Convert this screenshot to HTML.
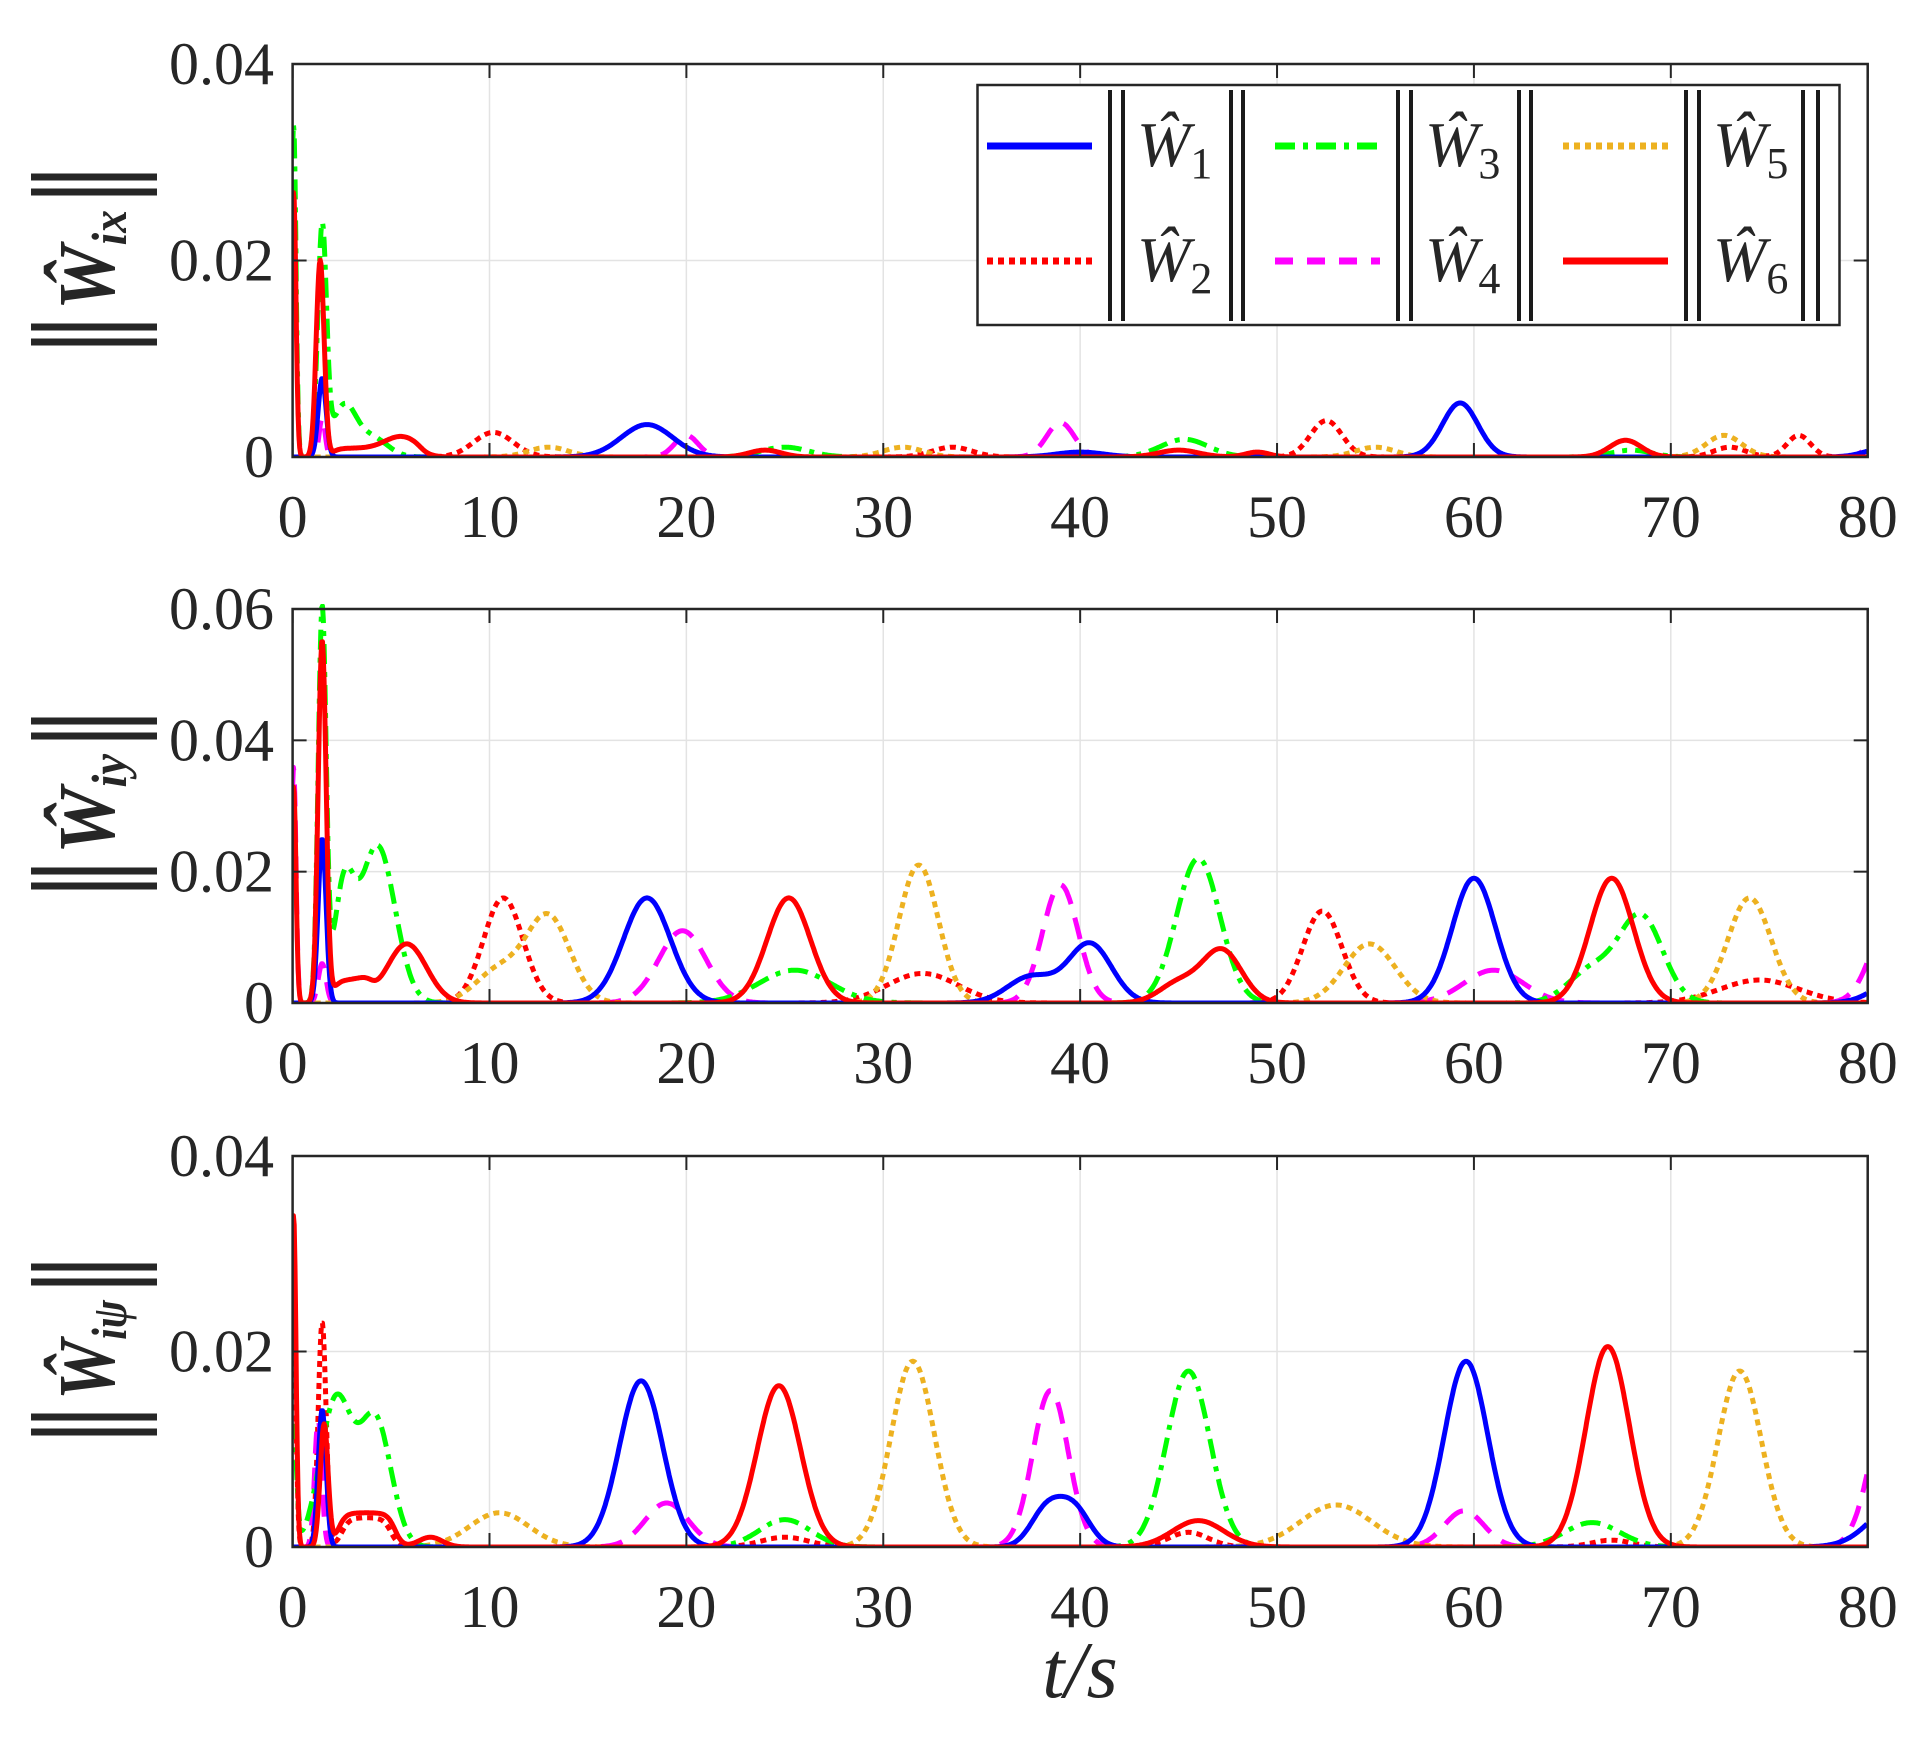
<!DOCTYPE html>
<html><head><meta charset="utf-8"><style>
html,body{margin:0;padding:0;background:#fff;}
svg{display:block;}
text{font-family:"Liberation Serif",serif;fill:#262626;}
</style></head><body>
<svg id="s" xmlns="http://www.w3.org/2000/svg" width="1928" height="1744" viewBox="0 0 1928 1744"></svg>
<script>
const S=document.getElementById('s');let h='';
const X0=292.6,X1=1867.7;const xs=t=>X0+t*(X1-X0)/80;
const panels=[{top:64,bot:457,ymax:0.04,yt:[0,0.02,0.04],lab:'ix',lc:260},
{top:609,bot:1003,ymax:0.06,yt:[0,0.02,0.04,0.06],lab:'iy',lc:804},
{top:1156,bot:1547,ymax:0.04,yt:[0,0.02,0.04],lab:'iψ',lc:1350}];
const st=[{c:'#0000ff',d:''},{c:'#ff0000',d:'6 5'},{c:'#00ff00',d:'20 8 5 8'},{c:'#ff00ff',d:'22 14'},{c:'#EDB120',d:'6 5'},{c:'#ff0000',d:''}];
const data=[
[
 {b:[[1.5,0.008,0.2],[18,0.0033,1.3],[40,0.0005,1.2],[59.3,0.0055,0.9],[81,0.001,1]]},
 {b:[[10.2,0.0025,1],[33.5,0.001,1],[52.5,0.0037,0.8],[76.5,0.0022,0.6],[73,0.001,0.8]]},
 {b:[[0.05,0.034,0.12],[1.5,0.023,0.22],[2.6,0.005,0.6],[4,0.002,0.8],[25,0.001,1.2],[45.3,0.0018,1.2],[68,0.0007,1]]},
 {b:[[1.5,0.004,0.15],[20,0.0022,0.6],[39,0.0035,0.7],[81,0.003,0.7]]},
 {b:[[13,0.001,1],[31,0.001,1],[55,0.001,1],[72.7,0.0022,0.9]]},
 {b:[[0.05,0.027,0.12],[1.4,0.02,0.2],[5.5,0.0012,0.8],[24,0.0007,0.8],[45,0.0007,1],[49,0.0005,0.6],[67.7,0.0017,0.8]],p:[[2,6.5,0.0009]]}
],[
 {b:[[1.5,0.025,0.2],[18,0.016,1.2],[37.5,0.004,1.2],[40.5,0.009,1.1],[60,0.019,1.1],[82,0.005,1.3]]},
 {b:[[10.7,0.016,1],[32,0.0045,1.8],[52.3,0.014,1],[74.5,0.0035,2]]},
 {b:[[1.5,0.059,0.2],[2.6,0.016,0.5],[4.3,0.024,0.9],[25.5,0.005,1.8],[46,0.022,1.1],[66,0.005,1.2],[68.5,0.013,1.1]]},
 {b:[[0.05,0.036,0.12],[1.5,0.006,0.2],[19.8,0.011,1.2],[39,0.018,0.9],[61,0.005,1.5],[81.2,0.013,1]]},
 {b:[[10.5,0.005,1.2],[13,0.013,1.1],[31.8,0.021,1],[54.7,0.009,1.3],[74,0.016,1.1]]},
 {b:[[0.05,0.033,0.12],[1.5,0.055,0.2],[5.8,0.009,1],[25.2,0.016,1.1],[45,0.003,1],[47.2,0.008,1],[67,0.019,1.1]],p:[[2,4,0.0035]]}
],[
 {b:[[1.5,0.014,0.2],[17.7,0.017,1.1],[38.3,0.0038,0.8],[39.7,0.0038,0.8],[59.6,0.019,1.1],[81.8,0.005,1.5]]},
 {b:[[0.05,0.024,0.12],[1.5,0.023,0.2],[25,0.001,1.2],[45.5,0.0015,1],[67,0.0007,1]],p:[[2.5,5,0.003]]},
 {b:[[0.05,0.012,0.15],[2.2,0.015,0.8],[4.2,0.013,0.8],[25,0.0028,1.3],[45.5,0.018,1.1],[66,0.0025,1.4]]},
 {b:[[1.3,0.013,0.18],[19,0.0045,1.1],[38.5,0.016,0.9],[59.5,0.0037,1],[81.2,0.016,1]]},
 {b:[[10.5,0.0035,1.5],[31.5,0.019,1.1],[53,0.0043,1.8],[73.5,0.018,1.1]]},
 {b:[[0.05,0.034,0.12],[1.6,0.0125,0.2],[7,0.001,0.6],[24.7,0.0165,1.1],[46,0.0027,1.3],[66.8,0.0205,1.1]],p:[[2.3,5.2,0.0035]]}
]];
const sig=x=>1/(1+Math.exp(-x));
panels.forEach((P,pi)=>{
 const ys=v=>P.bot-v*(P.bot-P.top)/P.ymax;
 h+=`<rect x="${X0}" y="${P.top}" width="${X1-X0}" height="${P.bot-P.top}" fill="#fff"/>`;
 for(let t=10;t<80;t+=10)h+=`<line x1="${xs(t)}" x2="${xs(t)}" y1="${P.top}" y2="${P.bot}" stroke="#e3e3e3" stroke-width="1.5"/>`;
 P.yt.forEach(v=>{if(v>0&&v<P.ymax)h+=`<line x1="${X0}" x2="${X1}" y1="${ys(v)}" y2="${ys(v)}" stroke="#e3e3e3" stroke-width="1.5"/>`;});
 h+=`<clipPath id="c${pi}"><rect x="${X0}" y="${P.top-5}" width="${X1-X0}" height="${P.bot-P.top+5}"/></clipPath><g clip-path="url(#c${pi})">`;
 [1,3,4,2,0,5].forEach(si=>{const D=data[pi][si];let pts=[];
  for(let t=0;t<=80;t+=0.04){let v=0;D.b.forEach(([c,a,s])=>{v+=a*Math.exp(-((t-c)**2)/(2*s*s));});
   (D.p||[]).forEach(([a,b,hh])=>{v+=hh*sig((t-a)*5)*sig((b-t)*5);});
   pts.push(xs(t).toFixed(1)+','+ys(v).toFixed(1));}
  h+=`<polyline points="${pts.join(' ')}" fill="none" stroke="${st[si].c}" stroke-width="5" stroke-linejoin="round" ${st[si].d?`stroke-dasharray="${st[si].d}"`:''}/>`;});
 h+=`</g>`;
 h+=`<rect x="${X0}" y="${P.top}" width="${X1-X0}" height="${P.bot-P.top}" fill="none" stroke="#262626" stroke-width="2.5"/>`;
 for(let t=0;t<=80;t+=10){h+=`<line x1="${xs(t)}" x2="${xs(t)}" y1="${P.bot}" y2="${P.bot-14}" stroke="#262626" stroke-width="2"/><line x1="${xs(t)}" x2="${xs(t)}" y1="${P.top}" y2="${P.top+14}" stroke="#262626" stroke-width="2"/>`;
  h+=`<text x="${xs(t)}" y="${P.bot+80}" font-size="60" text-anchor="middle">${t}</text>`;}
 P.yt.forEach(v=>{h+=`<line x1="${X0}" x2="${X0+14}" y1="${ys(v)}" y2="${ys(v)}" stroke="#262626" stroke-width="2"/><line x1="${X1}" x2="${X1-14}" y1="${ys(v)}" y2="${ys(v)}" stroke="#262626" stroke-width="2"/>`;
  h+=`<text x="274" y="${ys(v)+20}" font-size="60" text-anchor="end">${v===0?'0':v.toFixed(2)}</text>`;});
 const c=P.lc;
 [[c-83],[c-68],[c+67],[c+82]].forEach(([y])=>{h+=`<line x1="31" x2="157" y1="${y}" y2="${y}" stroke="#262626" stroke-width="7"/>`;});
 h+=`<text transform="translate(114,${c+50}) rotate(-90)" font-size="80" font-style="italic" font-weight="bold" textLength="100" lengthAdjust="spacingAndGlyphs">Ŵ<tspan font-size="50" dy="12">${P.lab}</tspan></text>`;
});
h+=`<rect x="977.5" y="85" width="862" height="240" fill="#fff" stroke="#262626" stroke-width="2.5"/>`;
const cols=[[987,1110,1123,1231,1243],[1275,1398,1411,1519,1531],[1563,1686,1699,1803,1818]];
const order=[[0,1],[2,3],[4,5]];
cols.forEach((cc,ci)=>{[cc[1],cc[2],cc[3],cc[4]].forEach(x=>{h+=`<line x1="${x}" x2="${x}" y1="90" y2="321" stroke="#1a1a1a" stroke-width="4"/>`;});
 order[ci].forEach((si,ri)=>{const y=ri?261:146;
  h+=`<line x1="${cc[0]}" x2="${cc[0]+105}" y1="${y}" y2="${y}" stroke="${st[si].c}" stroke-width="7" ${st[si].d?`stroke-dasharray="${si==3?'18 14':st[si].d}"`:''}/>`;
  h+=`<text x="${cc[2]+14}" y="${y+20}" font-size="64" font-style="italic" fill="#000">Ŵ<tspan font-size="44" dy="12" font-style="normal">${si+1}</tspan></text>`;});});
h+=`<text x="1080" y="1697" font-size="80" font-style="italic" text-anchor="middle">t/s</text>`;
S.innerHTML=h;
</script>
</body></html>
